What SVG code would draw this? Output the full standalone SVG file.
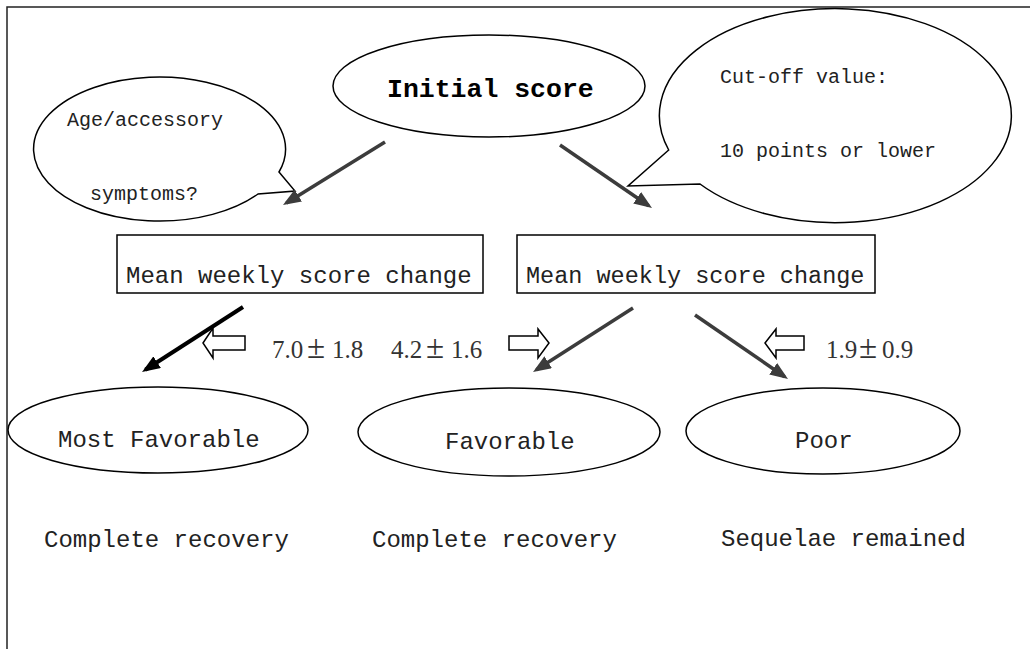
<svg xmlns="http://www.w3.org/2000/svg" width="1030" height="649" viewBox="0 0 1030 649">
<style>
.shape{fill:#fff;stroke:#000;stroke-width:1.5}
.mono{font-family:"Courier New","Liberation Mono",monospace;font-size:24px;fill:#222}
.small{font-size:20px}
.num{font-family:"Times New Roman","Liberation Serif",serif;font-size:25px;fill:#333}
.pm{font-size:33px}
.conn{stroke:#3c3c3c;stroke-width:3.5;fill:none}
.connb{stroke:#000;stroke-width:4;fill:none}
.block{fill:#fff;stroke:#000;stroke-width:1.5}
</style>
<defs>
<marker id="ah" markerUnits="userSpaceOnUse" markerWidth="18" markerHeight="14" viewBox="0 0 18 14" refX="14" refY="7" orient="auto">
<path d="M0,0 L18,7 L0,14 z" fill="#3c3c3c"/>
</marker>
<marker id="ahb" markerUnits="userSpaceOnUse" markerWidth="18" markerHeight="14" viewBox="0 0 18 14" refX="14" refY="7" orient="auto">
<path d="M0,0 L18,7 L0,14 z" fill="#000"/>
</marker>
</defs>
<rect width="1030" height="649" fill="#fff"/>
<path d="M7,649 L7,7 L1030,7" fill="none" stroke="#222" stroke-width="1.5"/>

<g id="initial">
<ellipse class="shape" cx="489" cy="86" rx="156" ry="51"/>
<text x="387" y="97" class="mono" style="font-weight:bold;font-size:26.5px;fill:#000">Initial score</text>
</g>

<g id="age-bubble">
<path class="shape" d="M279,172 L295,191 L258,194 A126 72 0 1 1 279,172 Z"/>
<text x="67" y="126" class="mono small">Age/accessory</text>
<text x="90" y="200" class="mono small">symptoms?</text>
</g>

<g id="cutoff-bubble">
<path class="shape" d="M668.7,150 L628,186 L700,184 A176 107 0 1 0 668.7,150 Z"/>
<text x="720" y="83" class="mono small">Cut-off value:</text>
<text x="720" y="157" class="mono small">10 points or lower</text>
</g>

<g id="box-left">
<rect class="shape" x="117" y="235" width="366" height="58"/>
<text x="126" y="283" class="mono">Mean weekly score change</text>
</g>

<g id="box-right">
<rect class="shape" x="517" y="235" width="358" height="58"/>
<text x="526" y="283" class="mono" style="font-size:23.5px">Mean weekly score change</text>
</g>

<g id="most-favorable">
<ellipse class="shape" cx="158" cy="430" rx="150" ry="43"/>
<text x="58" y="447" class="mono">Most Favorable</text>
</g>

<g id="favorable">
<ellipse class="shape" cx="509" cy="432" rx="151" ry="44"/>
<text x="445" y="449" class="mono">Favorable</text>
</g>

<g id="poor">
<ellipse class="shape" cx="823" cy="431" rx="137" ry="43"/>
<text x="795" y="448" class="mono">Poor</text>
</g>

<g id="outcomes">
<text x="44" y="547" class="mono">Complete recovery</text>
<text x="372" y="547" class="mono">Complete recovery</text>
<text x="721" y="546" class="mono">Sequelae remained</text>
</g>

<g id="values">
<polygon class="block" points="203,343 213,328 213,336 245,336 245,350 213,350 213,358"/>
<polygon class="block" points="509,336 538,336 538,329 549,343 538,358 538,350 509,350"/>
<polygon class="block" points="765,343 776,329 776,336 804,336 804,350 776,350 776,358"/>
<text y="358" class="num"><tspan x="272">7.0</tspan><tspan x="307" class="pm">±</tspan><tspan x="332">1.8</tspan></text>
<text y="358" class="num"><tspan x="391">4.2</tspan><tspan x="426" class="pm">±</tspan><tspan x="451">1.6</tspan></text>
<text y="358" class="num"><tspan x="826">1.9</tspan><tspan x="859" class="pm">±</tspan><tspan x="882">0.9</tspan></text>
</g>

<g id="connectors">
<line class="conn" x1="385" y1="142" x2="286.4" y2="202.9" marker-end="url(#ah)"/>
<line class="conn" x1="560" y1="145" x2="648.7" y2="205.7" marker-end="url(#ah)"/>
<line class="connb" x1="243" y1="307" x2="145.4" y2="369.8" marker-end="url(#ahb)"/>
<line class="conn" x1="633" y1="308" x2="536.4" y2="369.8" marker-end="url(#ah)"/>
<line class="conn" x1="695" y1="315" x2="784.7" y2="376.7" marker-end="url(#ah)"/>
</g>
</svg>
